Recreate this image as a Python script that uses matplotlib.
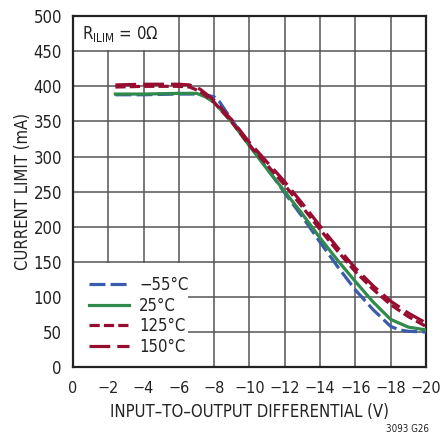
import matplotlib
matplotlib.use('Agg')
import matplotlib.pyplot as plt
from matplotlib import font_manager
from matplotlib.patches import Rectangle

# pick a narrow sans face if one is installed
fonts = font_manager.fontManager.ttflist
names = {f.name for f in fonts}
if 'Liberation Sans Narrow' in names:
    family, stretch, fs = 'Liberation Sans Narrow', 'normal', 13.5
elif any(f.name == 'DejaVu Sans' and f.stretch == 'condensed' for f in fonts):
    family, stretch, fs = 'DejaVu Sans', 'condensed', 12
else:
    family, stretch, fs = 'Liberation Sans', 'normal', 11.5
plt.rcParams['font.family'] = [family, 'DejaVu Sans']
plt.rcParams['font.stretch'] = stretch
plt.rcParams['mathtext.fontset'] = 'custom'
plt.rcParams['mathtext.rm'] = family

# curve data (x in V, current in mA)
v_m55 = [-2.4, -4, -6, -7, -7.5, -8, -8.3, -9, -10, -11, -12, -13, -14, -15, -16, -17, -18, -18.5, -19, -20]
i_m55 = [388, 388, 389, 389, 388, 385, 378, 352, 317, 283, 248, 214, 178, 143, 110, 82, 58, 53, 51, 50]

v_25 = [-2.4, -4, -6, -7, -7.5, -8, -9, -10, -11, -12, -13, -14, -15, -16, -17, -18, -19, -20]
i_25 = [389, 389, 390, 390, 385, 377, 349, 315, 282, 250, 218, 184, 152, 122, 93, 68, 57, 53]

v_125 = [-2.4, -4, -6, -6.6, -7.2, -8, -9, -10, -11, -12, -13, -14, -15, -16, -17, -18, -19, -20]
i_125 = [399, 400, 400, 399, 393, 377, 349, 316, 288, 259, 228, 196, 165, 136, 111, 89, 72, 58]

v_150 = [-2.4, -4, -6, -6.6, -7.2, -8, -9, -10, -11, -12, -13, -14, -15, -16, -17, -18, -19, -20]
i_150 = [402, 403, 403, 402, 396, 380, 352, 320, 292, 264, 233, 201, 170, 141, 116, 94, 77, 63]

x_ticks = [0, -2, -4, -6, -8, -10, -12, -14, -16, -18, -20]
x_tick_labels = ['0', '\u22122', '\u22124', '\u22126', '\u22128', '\u221210', '\u221212',
                 '\u221214', '\u221216', '\u221218', '\u221220']
y_ticks = list(range(0, 501, 50))

blue = '#3a5dab'
green = '#2f8a4c'
red = '#980c30'
ink = '#222222'

fig = plt.figure(figsize=(4.4, 4.36), dpi=100)
ax = fig.add_axes([0.166, 0.158, 0.802, 0.805])

lw = 2.3
ax.plot(v_m55, i_m55, color=blue, lw=lw, dashes=(5, 1.6), label='\u221255\u00b0C', zorder=3)
ax.plot(v_25, i_25, color=green, lw=lw, label='25\u00b0C', zorder=3)
ax.plot(v_125, i_125, color=red, lw=lw, dashes=(3.2, 1.3), label='125\u00b0C', zorder=4)
ax.plot(v_150, i_150, color=red, lw=lw, dashes=(6.5, 2.2), label='150\u00b0C', zorder=4)

ax.set_xlim(0, -20)
ax.set_ylim(0, 500)
ax.set_xticks(x_ticks)
ax.set_xticklabels(x_tick_labels)
ax.set_yticks(y_ticks)
ax.tick_params(length=0, labelsize=fs, colors=ink, pad=8)
ax.tick_params(axis='x', pad=10, labelsize=fs - 0.4)

ax.set_axisbelow(True)
ax.grid(True, color='#555555', lw=1.1)
for s in ax.spines.values():
    s.set_linewidth(1.6)
    s.set_color(ink)

ax.set_xlabel('INPUT\u2013TO\u2013OUTPUT DIFFERENTIAL (V)', fontsize=fs, color=ink, labelpad=5)
ax.set_ylabel('CURRENT LIMIT (mA)', fontsize=fs, color=ink, labelpad=1)

# white boxes behind the label and the legend
ax.add_patch(Rectangle((0, 0.0), 0.326, 0.296, transform=ax.transAxes,
                       facecolor='white', edgecolor='none', zorder=1))
ax.add_patch(Rectangle((0, 0.903), 0.28, 0.097, transform=ax.transAxes,
                       facecolor='white', edgecolor='none', zorder=1))

ax.text(0.025, 0.95, 'R$_{\\mathrm{ILIM}}$ = 0\u03a9', transform=ax.transAxes,
        fontsize=fs, va='center', ha='left', color=ink, zorder=5)

leg = ax.legend(loc='upper left', bbox_to_anchor=(0.045, 0.259), frameon=False,
                fontsize=fs, handlelength=2.4, handletextpad=0.6,
                labelspacing=0.15, borderaxespad=0, borderpad=0)
for t in leg.get_texts():
    t.set_color(ink)

fig.text(0.925, 0.005, '3093 G26', fontsize=7, ha='center', va='bottom', color=ink)

fig.savefig('out.png', dpi=100)
